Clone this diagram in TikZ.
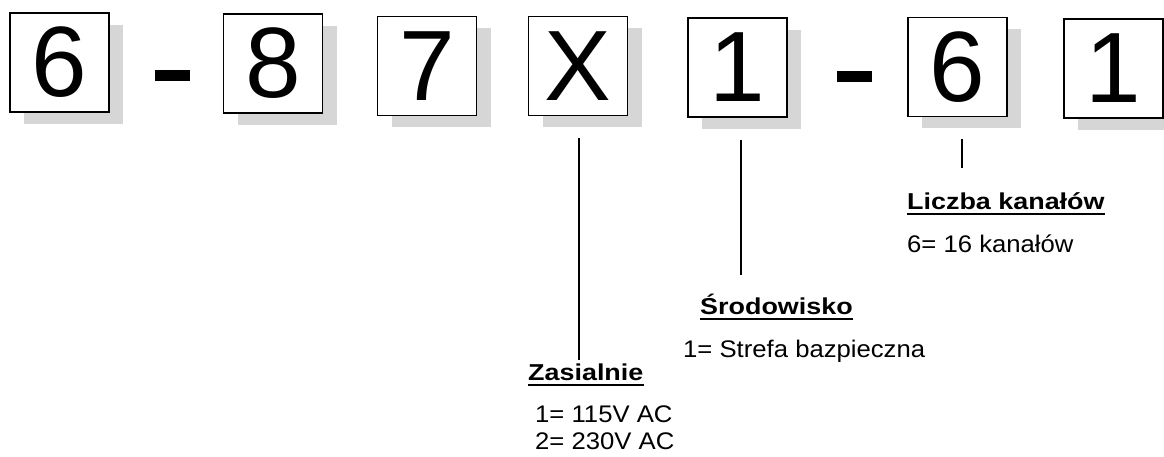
\documentclass[tikz,border=0pt]{standalone}
\usepackage{fontspec}
\setmainfont{Liberation Sans}
\newfontfamily\labelfont[FakeStretch=1.17]{Liberation Sans}
\newfontfamily\descfont[FakeStretch=1.07]{Liberation Sans}
\usetikzlibrary{shadows}

\begin{document}
\begin{tikzpicture}[x=1pt,y=-1pt,
    codebox/.style={draw=black, line width=1.3pt, fill=white, minimum width=99pt, minimum height=99pt,
        inner sep=0pt, font=\fontsize{100}{100}\selectfont,
        drop shadow={shadow xshift=14pt, shadow yshift=-12pt, fill=black!16, opacity=1}},
    dashbar/.style={fill=black, minimum width=35pt, minimum height=11pt, inner sep=0pt},
    headlabel/.style={anchor=base west, inner sep=0pt, font=\labelfont\bfseries\fontsize{23}{23}\selectfont},
    desclabel/.style={anchor=base west, inner sep=0pt, font=\descfont\fontsize{24}{24}\selectfont},
    lead/.style={line width=1.4pt},
    underbar/.style={line width=2pt}]
        \useasboundingbox (0,0) rectangle (1164,457);

        \node[codebox] (b1) at (59.5,62.5) {6};
        \node[dashbar] (d1) at (172.5,76) {};
        \node[codebox] (b2) at (273,63.5) {8};
        \node[codebox] (b3) at (427,66) {7};
        \node[codebox] (b4) at (578,66) {X};
        \node[codebox] (b5) at (737.5,67.5) {1};
        \node[dashbar] (d2) at (854.5,77) {};
        \node[codebox] (b6) at (957.5,67) {6};
        \node[codebox] (b7) at (1113.5,68.5) {1};

        \node[headlabel] (zas) at (528,380) {Zasialnie};
        \node[desclabel] (zas1) at (535,422) {1= 115V AC};
        \node[desclabel] (zas2) at (535,449) {2= 230V AC};

        \node[headlabel] (env) at (700,314) {Środowisko};
        \node[desclabel] (env1) at (683,357) {1= Strefa bazpieczna};

        \node[headlabel] (chn) at (907,209) {Liczba kanałów};
        \node[desclabel] (chn1) at (907,252) {6= 16 kanałów};

        \draw[underbar] (zas.south west) ++(0,5) coordinate (zasul) -- (zasul -| zas.south east);
        \draw[underbar] (env.south west) ++(0,5) coordinate (envul) -- (envul -| env.south east);
        \draw[underbar] (chn.south west) ++(0,5) coordinate (chnul) -- (chnul -| chn.south east);

        \draw[lead] ([xshift=1pt,yshift=-22pt]b4.south) -- ([xshift=1pt,yshift=3pt]zas.north -| b4.south);
        \draw[lead] ([xshift=3.5pt,yshift=-22pt]b5.south) -- ([xshift=3.5pt,yshift=18pt]env.north -| b5.south);
        \draw[lead] ([xshift=4.5pt,yshift=-22pt]b6.south) -- ([xshift=4.5pt,yshift=24pt]chn.north -| b6.south);
    \end{tikzpicture}
\end{document}
